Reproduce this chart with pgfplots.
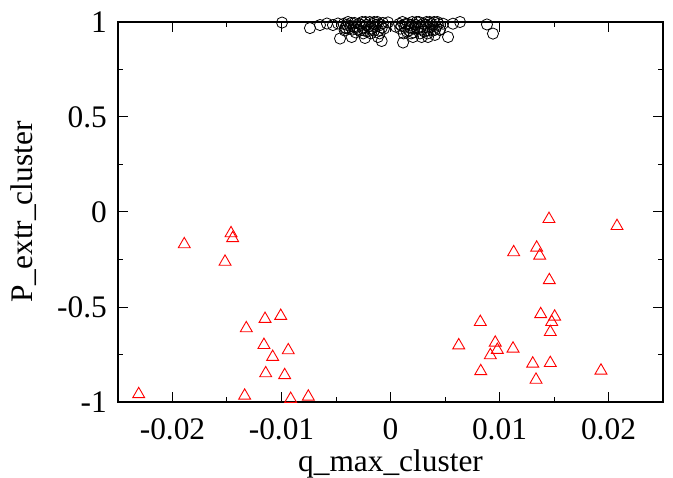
\documentclass[border=0pt]{standalone}
\usepackage{fontspec}
\setmainfont{Liberation Serif}
\usepackage{pgfplots}
\pgfplotsset{compat=1.18}
\begin{document}
\begin{tikzpicture}[font=\fontsize{31.5}{38}\selectfont]
\path[use as bounding box] (-118bp,-76bp) rectangle (555bp,402bp);
\begin{axis}[
  at={(0,0)}, anchor=south west,
  scale only axis, width=545bp, height=380bp,
  xmin=-0.025, xmax=0.025, ymin=-1, ymax=1,
  scaled ticks=false,
  clip=false,
  axis line style={line width=1.3bp},
  xtick={-0.02,-0.01,0,0.01,0.02},
  xticklabels={-0.02,-0.01,0,0.01,0.02},
  minor xtick={-0.015,-0.005,0.005,0.015},
  ytick={-1,-0.5,0,0.5,1},
  yticklabels={-1,-0.5,0,0.5,1},
  minor ytick={-0.75,-0.25,0.25,0.75},
  major tick length=10bp, minor tick length=5bp,
  tick style={black, line width=1bp},
  tick align=inside,
  xticklabel style={anchor=north, inner sep=0pt, yshift=-16bp},
  yticklabel style={anchor=east, inner sep=0pt, xshift=-11bp},
  xlabel={q\_max\_cluster},
  ylabel={P\_extr\_cluster},
  xlabel style={at={(axis description cs:0.5,-0.184)}, anchor=base, inner sep=0pt},
  ylabel style={at={(axis description cs:-0.157,0.5)}, anchor=base, inner sep=0pt},
]
\addplot[only marks, mark=o, mark size=5.6bp, black, line width=0.8bp] table {
x y
-0.00995 0.997
-0.00739 0.968
-0.00647 0.984
-0.00583 0.992
-0.00528 0.984
-0.00482 0.992
-0.00463 0.913
-0.00417 0.968
-0.00356 0.921
-0.00234 0.916
-0.00115 0.921
-0.00081 0.900
-0.00023 0.998
0.0005 0.975
-0.0043 0.99
-0.0041 0.97
-0.0039 1.00
-0.0037 0.98
-0.0035 0.96
-0.0033 0.995
-0.0031 0.975
-0.0029 0.99
-0.0028 0.955
-0.0026 1.00
-0.0024 0.97
-0.0022 0.985
-0.0021 0.95
-0.0019 1.00
-0.0017 0.965
-0.0016 0.99
-0.0014 0.975
-0.0012 1.00
-0.0011 0.955
-0.0009 0.985
-0.0008 0.97
-0.0007 0.995
-0.0025 0.94
-0.0032 0.945
-0.0018 0.94
-0.0010 0.94
-0.0042 0.955
-0.0040 0.985
-0.0036 0.995
-0.0034 0.975
-0.0030 0.96
-0.0027 0.985
-0.0023 1.00
-0.0020 0.975
-0.0015 0.955
-0.0013 0.985
-0.0006 0.965
-0.0038 0.965
-0.0024 0.955
-0.0015 1.00
0.0008 0.99
0.0009 0.965
0.0011 1.00
0.0013 0.975
0.0015 0.95
0.0016 0.99
0.0018 0.97
0.0020 1.00
0.0021 0.945
0.0023 0.985
0.0025 0.965
0.0026 1.00
0.0028 0.975
0.0030 0.99
0.0031 0.95
0.0033 1.00
0.0035 0.97
0.0037 0.99
0.0039 0.955
0.0040 1.00
0.0042 0.975
0.0044 0.99
0.0045 0.96
0.0012 0.94
0.0027 0.94
0.0010 0.98
0.0014 0.99
0.0017 0.955
0.0019 0.985
0.0022 0.965
0.0024 1.00
0.0029 0.96
0.0032 0.985
0.0034 0.955
0.0036 1.00
0.0038 0.975
0.0041 0.96
0.0043 1.00
0.0019 0.94
0.0034 0.94
0.00115 0.892
0.00206 0.921
0.00286 0.921
0.00344 0.921
0.00408 0.932
0.00454 0.958
0.00482 0.991
0.00528 0.921
0.00573 0.991
0.00638 1.0
0.00885 0.987
0.00940 0.939
};
\addplot[only marks, mark=triangle, mark size=6.9bp, red, line width=0.9bp] table {
x y
-0.01463 -0.112
-0.01448 -0.138
-0.01892 -0.170
-0.01518 -0.262
-0.01151 -0.563
-0.01007 -0.547
-0.01323 -0.612
-0.01161 -0.700
-0.00938 -0.728
-0.01081 -0.763
-0.01145 -0.849
-0.00971 -0.859
-0.02310 -0.959
-0.01338 -0.967
-0.00916 -0.984
-0.00754 -0.972
0.01454 -0.037
0.02078 -0.074
0.01130 -0.212
0.01341 -0.188
0.01369 -0.230
0.01457 -0.359
0.00824 -0.579
0.01378 -0.538
0.01506 -0.551
0.01479 -0.579
0.01466 -0.632
0.00626 -0.702
0.00961 -0.688
0.00980 -0.726
0.00916 -0.754
0.01124 -0.719
0.01305 -0.798
0.01466 -0.795
0.00828 -0.838
0.01335 -0.883
0.01931 -0.835
};
\end{axis}
\end{tikzpicture}
\end{document}
